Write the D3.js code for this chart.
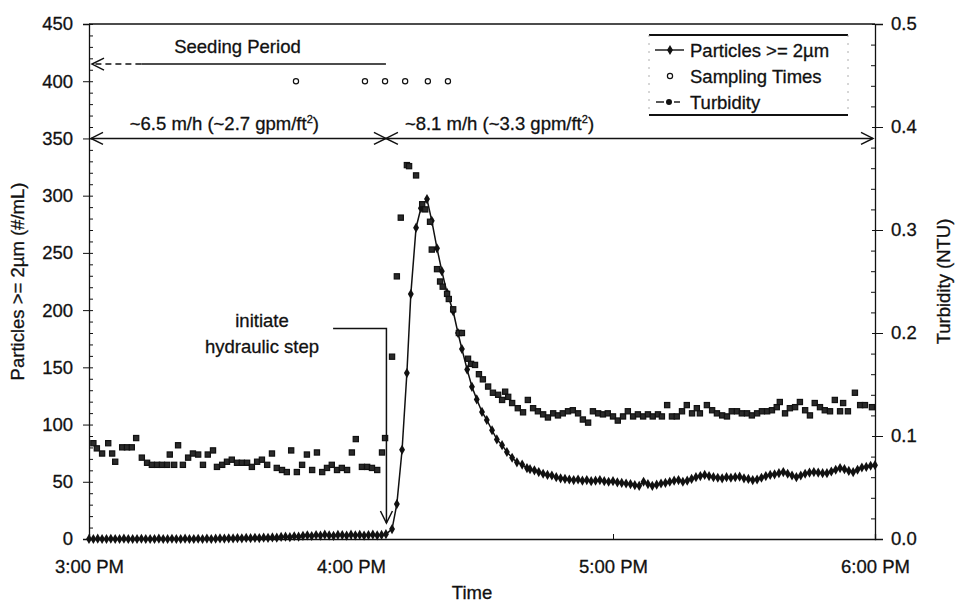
<!DOCTYPE html>
<html><head><meta charset="utf-8">
<script src="https://cdn.jsdelivr.net/npm/d3@7"></script>
<style>
body{margin:0;background:#fff}
text{font-family:"Liberation Sans",Arial,sans-serif;fill:#111;stroke:#111;stroke-width:0.3px}
</style>
</head><body>
<svg id="c" width="958" height="603"></svg>
<script>
// ---------- data ----------
const xTickMinutes = [0, 60, 120, 180];
const xTickLabels = ["3:00 PM", "4:00 PM", "5:00 PM", "6:00 PM"];
const leftTicks = [0, 50, 100, 150, 200, 250, 300, 350, 400, 450];
const rightTicks = [0.0, 0.1, 0.2, 0.3, 0.4, 0.5];
const rightTickLabels = ["0.0", "0.1", "0.2", "0.3", "0.4", "0.5"];

// minutes after 3:00 PM
const particleTimes = [
  0,1,2,3,4,5,6,7,8,9,10,11,12,13,14,15,16,17,18,19,20,21,22,23,24,25,26,27,28,29,
  30,31,32,33,34,35,36,37,38,39,40,41,42,43,44,45,46,47,48,49,50,51,52,53,54,55,56,57,58,59,
  60,61,62,63,64,65,66,67,68,
  69.4,70.5,71.7,72.8,73.7,74.9,76.0,77.4,78.5,79.7,80.8,82.0,83.4,84.5,85.4,86.6,87.7,88.8,
  90.0,91.1,92.3,93.4,94.6,95.7,96.9,98.0,99.2,100.3,
  101,102,103,104,105,106,107,108,109,110,111,112,113,114,115,116,117,118,119,120,
  121,122,123,124,125,126,127,128,129,130,131,132,133,134,135,136,137,138,139,140,
  141,142,143,144,145,146,147,148,149,150,151,152,153,154,155,156,157,158,159,160,
  161,162,163,164,165,166,167,168,169,170,171,172,173,174,175,176,177,178,179,180
];
const particleValues = [
  0,0,0.3,0,0,0.2,0,0,0.3,0,0,0,0.2,0,0,0,0.3,0,0,0.2,0,0,0.3,0,0,0.2,0,0.4,0,0.3,
  0.5,0.4,0.6,0.5,0.8,0.6,0.9,0.7,1.0,0.8,1.2,1.0,1.4,1.2,1.8,2.0,1.6,2.4,2.0,2.8,3.2,2.6,3.5,3.0,3.8,3.2,2.8,3.6,3.4,3.0,
  3.8,3.2,3.6,3.0,3.4,3.8,3.2,3.6,4.2,
  8.7,30.5,78,145,214,272,289,297,278,254,234,215,199,180,166,148,133,122,
  111,104,95,87,82,76,71,67,65,62,
  61,60,58.5,57,56,55.5,54,53,52.5,52,51.5,52,51,51.5,50.5,51,51.5,50.5,50,50.5,
  49.5,49,48.5,48,47,46.5,50,48,46.5,47.5,48.5,49,50,51,51.5,50,51,52.5,54,55,
  56,55,54,53.5,53,54,53.5,54,54.5,53,52.5,51.5,52,53.5,55,56,56.5,57.5,58.5,57,
  55.5,54,55.5,57,58,58.5,58,57.5,57.5,59,60.5,62,61,59.5,58.5,60.5,62.5,63,64,64.5
];

const turbidityTimes = [
  1,1.8,3,4.4,5.3,6,7.6,8.7,9.8,10.8,12.1,13.3,14.4,15.6,16.7,17.9,18.5,19.5,20.4,21.5,
  22.7,23.8,25,26.1,27.2,28.4,29.3,30.5,31.6,32.7,33.9,35,36.2,37.3,38.5,39.6,40.8,41.9,43,44.2,
  45.3,46.3,47.6,48.8,49.9,51.1,52.2,53.4,54.5,55.6,56.8,57.9,59.1,60.2,61.1,62.5,63.7,64.8,66,67.1,67.8,
  69.4,70.5,71.4,72.8,73.3,74.9,76.3,77,78.1,78.5,79.7,80.4,81,82,82.4,83.4,84.7,85.4,86.8,87.5,
  88.4,89.3,90.2,91.4,92.5,93.7,94.6,95.3,96,96.9,98.2,99.4,100.5,
  101.7,102.8,104,105.1,106.3,107.4,108.5,109.7,110.8,112,113.1,114.3,115.4,116.6,117.7,118.8,120,121.1,122.3,123.4,
  124.6,125.7,126.9,128,129.1,130.3,131.2,132.4,133.5,134.6,135.8,136.9,138.1,139.2,139.9,141.5,142.7,143.8,145,146.1,
  147.2,148.4,149.5,150.7,151.8,153,154.1,155.3,156.4,157.5,158.2,159.4,160.5,161.7,162.8,164,165.1,166.2,167.4,168.5,
  169.7,170.8,172,172.7,173.8,175.4,176.6,177.7,179.3
];
const turbidityValues = [
  0.093,0.088,0.083,0.093,0.083,0.075,0.089,0.089,0.089,0.098,0.079,0.074,0.072,0.072,0.072,0.072,0.082,0.072,0.091,0.072,
  0.079,0.083,0.082,0.072,0.082,0.086,0.070,0.072,0.075,0.077,0.074,0.074,0.074,0.070,0.075,0.077,0.072,0.083,0.069,0.067,
  0.065,0.086,0.065,0.072,0.082,0.067,0.084,0.065,0.069,0.072,0.067,0.069,0.067,0.084,0.097,0.070,0.070,0.069,0.067,0.084,0.098,
  0.177,0.255,0.312,0.363,0.362,0.353,0.325,0.320,0.308,0.281,0.262,0.250,0.245,0.238,0.233,0.223,0.200,0.200,0.175,0.170,
  0.169,0.160,0.155,0.148,0.142,0.140,0.135,0.143,0.138,0.132,0.127,0.123,0.135,
  0.127,0.124,0.121,0.118,0.122,0.120,0.122,0.124,0.125,0.122,0.116,0.113,0.124,0.122,0.121,0.122,0.119,0.115,0.119,0.124,
  0.119,0.121,0.119,0.121,0.119,0.121,0.119,0.130,0.119,0.119,0.124,0.130,0.122,0.127,0.122,0.130,0.125,0.122,0.120,0.119,
  0.124,0.124,0.122,0.122,0.120,0.122,0.124,0.124,0.125,0.128,0.133,0.122,0.127,0.128,0.133,0.125,0.120,0.132,0.128,0.125,
  0.124,0.135,0.124,0.132,0.124,0.142,0.130,0.130,0.128
];

const samplingTimes = [47.4, 63.2, 67.8, 72.4, 77.6, 82.2];
const samplingLevel = 400;
const stepTime = 68;            // hydraulic step (~4:08 PM)
const seedingLevel = 415;
const rateLevel = 350;
const stepNoteLevel = 184, stepNoteStart = 55.9, stepArrowTip = 14;
const rateLabels = ["~6.5 m/h (~2.7 gpm/ft", "~8.1 m/h (~3.3 gpm/ft"];
const legendLabels = ["Particles >= 2µm", "Sampling Times", "Turbidity"];

// ---------- layout ----------
const svg = d3.select("#c");
const L = 89, R = 875, T = 24, B = 539;
const x = d3.scaleLinear().domain([0, 180]).range([L, R]);
const y = d3.scaleLinear().domain([0, 450]).range([B, T]);
const y2 = d3.scaleLinear().domain([0, 0.5]).range([B, T]);
const FS = 18.5;
const ink = "#111";
const FF = '"Liberation Sans",Arial,sans-serif';

// frame
svg.append("line").attr("x1", L).attr("x2", R).attr("y1", T).attr("y2", T).attr("stroke", ink).attr("stroke-width", 1.3);

// left axis
const gl = svg.append("g").attr("transform", `translate(${L},0)`);
gl.call(d3.axisLeft(y).tickValues(leftTicks).tickSize(6).tickPadding(10));
gl.selectAll("text").attr("font-size", FS).style("font-family", FF).attr("fill", ink);
gl.select(".domain").attr("stroke", ink).attr("stroke-width", 1.3);
gl.selectAll(".tick line").attr("stroke", ink).attr("x2", -6).attr("x1", 4);
const gl2 = svg.append("g").attr("transform", `translate(${L},0)`);
gl2.call(d3.axisRight(y).tickValues(d3.range(0, 451, 10).filter(v => v % 50)).tickSize(4).tickFormat(""));
gl2.select(".domain").remove();
gl2.selectAll(".tick line").attr("stroke", ink);

// right axis
const gr = svg.append("g").attr("transform", `translate(${R},0)`);
gr.call(d3.axisRight(y2).tickValues(rightTicks).tickSize(8).tickPadding(8).tickFormat((d, i) => rightTickLabels[i]));
gr.selectAll("text").attr("font-size", FS).style("font-family", FF).attr("fill", ink);
gr.select(".domain").attr("stroke", ink).attr("stroke-width", 1.3);
gr.selectAll(".tick line").attr("stroke", ink).attr("x1", -3);
const gr2 = svg.append("g").attr("transform", `translate(${R},0)`);
gr2.call(d3.axisLeft(y2).tickValues(d3.range(0, 0.501, 0.02).filter(v => Math.abs(v * 10 - Math.round(v * 10)) > 1e-6)).tickSize(4).tickFormat(""));
gr2.select(".domain").remove();
gr2.selectAll(".tick line").attr("stroke", ink);

// bottom axis
const gb = svg.append("g").attr("transform", `translate(0,${B})`);
gb.call(d3.axisBottom(x).tickValues(xTickMinutes).tickSize(-5).tickPadding(21).tickFormat((d, i) => xTickLabels[i]));
gb.selectAll("text").attr("font-size", FS).style("font-family", FF).attr("fill", ink);
gb.select(".domain").attr("stroke", ink).attr("stroke-width", 1.3);
gb.selectAll(".tick line").attr("stroke", ink);

// axis titles
svg.append("text").attr("x", 472).attr("y", 599).attr("text-anchor", "middle").attr("font-size", FS).text("Time");
svg.append("text").attr("transform", `translate(24,${(T + B) / 2}) rotate(-90)`).attr("text-anchor", "middle").attr("font-size", FS).text("Particles >= 2µm (#/mL)");
svg.append("text").attr("transform", `translate(950,${(T + B) / 2}) rotate(-90)`).attr("text-anchor", "middle").attr("font-size", FS).text("Turbidity (NTU)");

// ---------- series ----------
const particles = particleTimes.map((t, i) => [t, particleValues[i]]);
const turbidity = turbidityTimes.map((t, i) => [t, turbidityValues[i]]);

svg.append("path").datum(particles)
  .attr("d", d3.line().x(d => x(d[0])).y(d => y(d[1])))
  .attr("fill", "none").attr("stroke", ink).attr("stroke-width", 1.5);
svg.append("g").selectAll("path").data(particles).join("path")
  .attr("transform", d => `translate(${x(d[0])},${y(d[1])})`)
  .attr("d", d3.symbol(d3.symbolDiamond, 30)).attr("fill", ink);

svg.append("g").selectAll("rect").data(turbidity).join("rect")
  .attr("x", d => x(d[0]) - 2.6).attr("y", d => y2(d[1]) - 2.6)
  .attr("width", 5.2).attr("height", 5.2)
  .attr("fill", "#2a2a2a").attr("stroke", ink).attr("stroke-width", 1.2);

svg.append("g").selectAll("circle").data(samplingTimes).join("circle")
  .attr("cx", d => x(d)).attr("cy", y(samplingLevel)).attr("r", 2.6)
  .attr("fill", "#fff").attr("stroke", ink).attr("stroke-width", 1.2);

// ---------- annotations ----------
function head(px, py, dir) { // open arrowhead
  let p;
  if (dir === "down") p = `M${px - 6},${py - 12}L${px},${py}L${px + 6},${py - 12}`;
  else p = `M${px - dir * 12},${py - 6}L${px},${py}L${px - dir * 12},${py + 6}`;
  svg.append("path").attr("d", p).attr("fill", "none").attr("stroke", ink).attr("stroke-width", 1.5);
}
// seeding period
const ys = y(seedingLevel);
svg.append("line").attr("x1", x(stepTime)).attr("x2", x(12)).attr("y1", ys).attr("y2", ys).attr("stroke", ink).attr("stroke-width", 1.4);
svg.append("line").attr("x1", x(12)).attr("x2", x(0) + 3).attr("y1", ys).attr("y2", ys).attr("stroke", ink).attr("stroke-width", 1.4).attr("stroke-dasharray", "6,4");
head(x(0) + 3, ys, -1);
svg.append("text").attr("x", x(34)).attr("y", ys - 11).attr("text-anchor", "middle").attr("font-size", FS).text("Seeding Period");

// rate arrows
const yr = y(rateLevel);
svg.append("line").attr("x1", x(0) + 2).attr("x2", x(180) - 2).attr("y1", yr).attr("y2", yr).attr("stroke", ink).attr("stroke-width", 1.5);
head(x(0) + 2, yr, -1);
head(x(stepTime), yr, 1);
head(x(stepTime), yr, -1);
head(x(180) - 2, yr, 1);
[[rateLabels[0], 31], [rateLabels[1], 94]].forEach(([lab, t]) => {
  const rt = svg.append("text").attr("x", x(t)).attr("y", yr - 8).attr("text-anchor", "middle").attr("font-size", FS);
  rt.append("tspan").text(lab);
  rt.append("tspan").attr("dy", -7).attr("font-size", 11).text("2");
  rt.append("tspan").attr("dy", 7).text(")");
});

// hydraulic step note
const yn = y(stepNoteLevel);
svg.append("path")
  .attr("d", `M${x(stepNoteStart)},${yn}H${x(stepTime) + 0.5}V${y(stepArrowTip)}`)
  .attr("fill", "none").attr("stroke", ink).attr("stroke-width", 1.5);
head(x(stepTime) + 0.5, y(stepArrowTip), "down");
svg.append("text").attr("x", 262).attr("y", yn - 1).attr("text-anchor", "middle").attr("font-size", FS).text("initiate");
svg.append("text").attr("x", 262).attr("y", yn + 25).attr("text-anchor", "middle").attr("font-size", FS).text("hydraulic step");

// ---------- legend ----------
const lg = svg.append("g");
const lx = 649, lw = 199, ly = 35, lh = 80;
lg.append("line").attr("x1", lx).attr("x2", lx + lw).attr("y1", ly).attr("y2", ly).attr("stroke", ink).attr("stroke-width", 1.8);
lg.append("line").attr("x1", lx).attr("x2", lx + lw).attr("y1", ly + lh).attr("y2", ly + lh).attr("stroke", ink).attr("stroke-width", 1.8);
lg.append("line").attr("x1", lx).attr("x2", lx).attr("y1", ly).attr("y2", ly + lh).attr("stroke", "#999").attr("stroke-width", 0.8).attr("stroke-dasharray", "2,6");
lg.append("line").attr("x1", lx + lw).attr("x2", lx + lw).attr("y1", ly).attr("y2", ly + lh).attr("stroke", "#999").attr("stroke-width", 0.8).attr("stroke-dasharray", "2,6");
const rows = [50, 76, 102];
lg.append("line").attr("x1", 655).attr("x2", 684).attr("y1", rows[0]).attr("y2", rows[0]).attr("stroke", ink).attr("stroke-width", 1.4);
lg.append("path").attr("transform", `translate(670,${rows[0]})`).attr("d", d3.symbol(d3.symbolDiamond, 30)).attr("fill", ink);
lg.append("circle").attr("cx", 670).attr("cy", rows[1]).attr("r", 2.6).attr("fill", "#fff").attr("stroke", ink).attr("stroke-width", 1.2);
lg.append("line").attr("x1", 656).attr("x2", 664).attr("y1", rows[2]).attr("y2", rows[2]).attr("stroke", ink).attr("stroke-width", 1.4);
lg.append("line").attr("x1", 674).attr("x2", 680).attr("y1", rows[2]).attr("y2", rows[2]).attr("stroke", ink).attr("stroke-width", 1.4);
lg.append("circle").attr("cx", 669).attr("cy", rows[2]).attr("r", 3).attr("fill", ink);
legendLabels.forEach((t, i) => {
  lg.append("text").attr("x", 690).attr("y", rows[i] + 6.5).attr("font-size", FS).text(t);
});
</script>
</body></html>
